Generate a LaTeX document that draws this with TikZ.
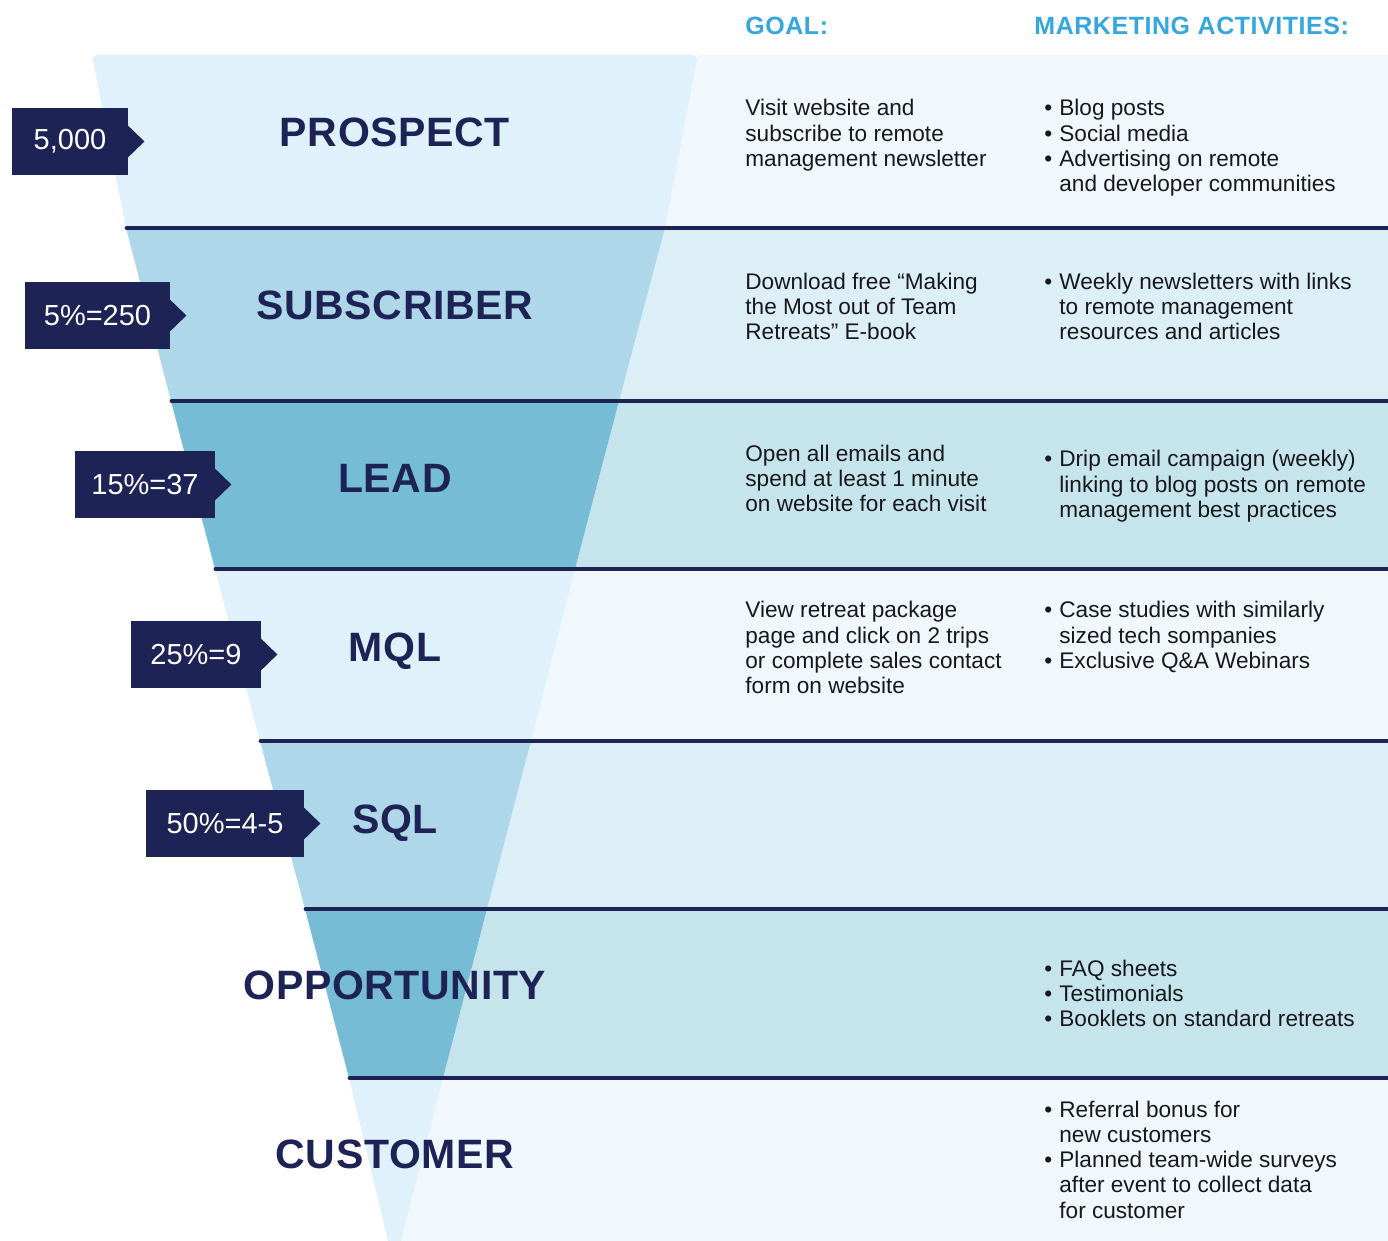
\documentclass[tikz,border=0pt]{standalone}
\usepackage{fontspec}
\setmainfont{Liberation Sans}
\newfontfamily\titlefont[LetterSpace=1.6]{Liberation Sans}
\newfontfamily\headfont[LetterSpace=2.2]{Liberation Sans}
\definecolor{navy}{RGB}{30,35,86}
\definecolor{fa}{RGB}{223,241,251}
\definecolor{fb}{RGB}{174,216,233}
\definecolor{fc}{RGB}{118,188,212}
\definecolor{ra}{RGB}{240,248,252}
\definecolor{rb}{RGB}{220,238,246}
\definecolor{rc}{RGB}{198,228,236}
\definecolor{hblue}{RGB}{53,167,223}
\definecolor{ink}{RGB}{24,24,28}
\newcommand\tlines[1]{\vtop{\baselineskip=12.65pt\lineskip=0pt\lineskiplimit=-20pt\halign{##\hfil\cr#1\crcr}}}
\newcommand\bl{\llap{\textbullet\kern3.5pt}}
\begin{document}
\begin{tikzpicture}[x=0.5pt,y=-0.5pt,
  sepline/.style={draw=navy,line width=2.4pt,line cap=round},
  numbox/.style={fill=navy,text=white,inner sep=0pt,minimum height=33.5pt,font=\fontsize{14.5}{16}\selectfont},
  ttl/.style={text=navy,anchor=base,inner sep=0pt,font=\titlefont\bfseries\fontsize{20.5}{22}\selectfont},
  txt/.style={text=ink,anchor=base west,inner sep=0pt,font=\fontsize{11.3}{12.65}\selectfont},
  hd/.style={text=hblue,anchor=base west,inner sep=0pt,font=\headfont\bfseries\fontsize{12.5}{14}\selectfont}]
\useasboundingbox (0,0) rectangle (1388,1241);
\fill[white] (0,0) rectangle (1388,1241);
% right side bands
\fill[ra] (698,55) -- (1388,55) -- (1388,228) -- (665,228) -- cycle;
\fill[rb] (665,228) -- (1388,228) -- (1388,401) -- (619,401) -- cycle;
\fill[rc] (619,401) -- (1388,401) -- (1388,569) -- (575,569) -- cycle;
\fill[ra] (575,569) -- (1388,569) -- (1388,741) -- (531,741) -- cycle;
\fill[rb] (531,741) -- (1388,741) -- (1388,909) -- (487,909) -- cycle;
\fill[rc] (487,909) -- (1388,909) -- (1388,1078) -- (443,1078) -- cycle;
\fill[ra] (443,1078) -- (1388,1078) -- (1388,1241) -- (401,1241) -- cycle;
% funnel bands
\fill[fa] (126,228) [rounded corners=3pt] -- (92,55) -- (698,55) [sharp corners] -- (665,228) -- cycle;
\fill[fb] (126,228) -- (665,228) -- (619,401) -- (171,401) -- cycle;
\fill[fc] (171,401) -- (619,401) -- (575,569) -- (215,569) -- cycle;
\fill[fa] (215,569) -- (575,569) -- (531,741) -- (260,741) -- cycle;
\fill[fb] (260,741) -- (531,741) -- (487,909) -- (305,909) -- cycle;
\fill[fc] (305,909) -- (487,909) -- (443,1078) -- (349,1078) -- cycle;
\fill[fa] (349,1078) -- (443,1078) -- (401,1241) -- (388,1241) -- cycle;
% separators
\draw[sepline] (127,228) -- (1395,228);
\draw[sepline] (172,401) -- (1395,401);
\draw[sepline] (216,569) -- (1395,569);
\draw[sepline] (261,741) -- (1395,741);
\draw[sepline] (306,909) -- (1395,909);
\draw[sepline] (350,1078) -- (1395,1078);
% headers
\node[hd] (hgoal) at (745,35) {GOAL:};
\node[hd] (hact) at (1034,35) {MARKETING ACTIVITIES:};
% titles
\node[ttl] (t1) at (395,147) {PROSPECT};
\node[ttl] (t2) at (395,320) {SUBSCRIBER};
\node[ttl] (t3) at (395,492) {LEAD};
\node[ttl] (t4) at (395,661) {MQL};
\node[ttl] (t5) at (395,833) {SQL};
\node[ttl] (t6) at (395,999) {OPPORTUNITY};
\node[ttl] (t7) at (395,1168) {CUSTOMER};
% number boxes
\node[numbox,minimum width=58pt] (b1) at (70,141.5) {5,000};
\node[numbox,minimum width=72.5pt] (b2) at (97.5,315.5) {5\%=250};
\node[numbox,minimum width=70pt] (b3) at (145,484.5) {15\%=37};
\node[numbox,minimum width=65pt] (b4) at (196,654.5) {25\%=9};
\node[numbox,minimum width=79pt] (b5) at (225,823.5) {50\%=4-5};
\foreach \b in {b1,b2,b3,b4,b5}{
  \fill[navy] ([xshift=-0.5pt,yshift=8.25pt]\b.east) -- ([xshift=8pt]\b.east) -- ([xshift=-0.5pt,yshift=-8.25pt]\b.east) -- cycle;
}
% goal texts
\node[txt] (g1) at (745,116) {\tlines{Visit website and\cr subscribe to remote\cr management newsletter}};
\node[txt] (g2) at (745,289.3) {\tlines{Download free “Making\cr the Most out of Team\cr Retreats” E-book}};
\node[txt] (g3) at (745,461) {\tlines{Open all emails and\cr spend at least 1 minute\cr on website for each visit}};
\node[txt] (g4) at (745,617.7) {\tlines{View retreat package\cr page and click on 2 trips\cr or complete sales contact\cr form on website}};
% activity texts
\node[txt] (a1) at (1059,116) {\tlines{\bl Blog posts\cr\bl Social media\cr\bl Advertising on remote\cr and developer communities}};
\node[txt] (a2) at (1059,289.3) {\tlines{\bl Weekly newsletters with links\cr to remote management\cr resources and articles}};
\node[txt] (a3) at (1059,466.7) {\tlines{\bl Drip email campaign (weekly)\cr linking to blog posts on remote\cr management best practices}};
\node[txt] (a4) at (1059,617.7) {\tlines{\bl Case studies with similarly\cr sized tech sompanies\cr\bl Exclusive Q\&A Webinars}};
\node[txt] (a6) at (1059,976) {\tlines{\bl FAQ sheets\cr\bl Testimonials\cr\bl Booklets on standard retreats}};
\node[txt] (a7) at (1059,1117) {\tlines{\bl Referral bonus for\cr new customers\cr\bl Planned team-wide surveys\cr after event to collect data\cr for customer}};
\end{tikzpicture}
\end{document}
